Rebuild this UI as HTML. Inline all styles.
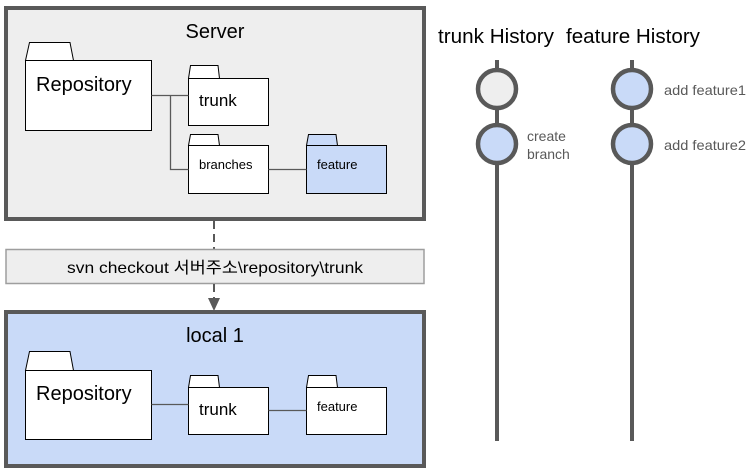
<!DOCTYPE html>
<html><head><meta charset="utf-8"><style>
html,body{margin:0;padding:0;background:#fff;}
svg{display:block;}
text{font-family:"Liberation Sans","Noto Sans CJK KR",sans-serif;}
</style></head><body>
<svg width="756" height="471" viewBox="0 0 756 471" xmlns="http://www.w3.org/2000/svg">
<!-- Server -->
<rect x="6" y="8" width="418" height="211" fill="#eeeeee" stroke="#595959" stroke-width="4"/>
<text x="215" y="38" font-size="20" text-anchor="middle" fill="#000">Server</text>
<g stroke="#000" stroke-width="1" fill="#fff">
<path d="M25.5 60.5 L29.5 42.5 L70 42.5 L73.5 60.5 Z"/>
<rect x="25.5" y="60.5" width="126" height="70"/>
<path d="M188.5 78.5 L190.5 65.5 L218 65.5 L219.5 78.5 Z"/>
<rect x="188.5" y="78.5" width="80" height="47"/>
<path d="M188.5 145.5 L190.5 134.5 L218 134.5 L219.5 145.5 Z"/>
<rect x="188.5" y="145.5" width="80" height="48"/>
<path d="M306.5 145.5 L308.5 134.5 L336 134.5 L337.5 145.5 Z" fill="#c9daf8"/>
<rect x="306.5" y="145.5" width="80" height="48" fill="#c9daf8"/>
</g>
<g stroke="#595959" stroke-width="1.3" fill="none">
<path d="M151.5 95.5 H188.5 M170.5 95.5 V169.5 H188.5 M268.5 169.5 H306.5"/>
</g>
<text x="36" y="91" font-size="20">Repository</text>
<text x="199" y="106" font-size="17">trunk</text>
<text x="199" y="169" font-size="13">branches</text>
<text x="317" y="169" font-size="13">feature</text>

<!-- checkout -->
<line x1="214" y1="221" x2="214" y2="249" stroke="#595959" stroke-width="2" stroke-dasharray="8,5"/>
<rect x="6" y="249.5" width="418" height="34" fill="#eeeeee" stroke="#9e9e9e" stroke-width="1.5"/>
<text x="67" y="273" font-size="16" textLength="296" lengthAdjust="spacingAndGlyphs">svn checkout 서버주소\repository\trunk</text>
<line x1="214" y1="284" x2="214" y2="300" stroke="#595959" stroke-width="2" stroke-dasharray="8,5"/>
<path d="M208 298 L220 298 L214 311 Z" fill="#595959"/>

<!-- local -->
<rect x="6" y="312" width="418" height="154" fill="#c9daf8" stroke="#595959" stroke-width="4"/>
<text x="215" y="342" font-size="20" text-anchor="middle">local 1</text>
<g stroke="#000" stroke-width="1" fill="#fff">
<path d="M25.5 370.5 L29.5 351.5 L70 351.5 L73.5 370.5 Z"/>
<rect x="25.5" y="370.5" width="126" height="69"/>
<path d="M188.5 387.5 L190.5 375.5 L218 375.5 L219.5 387.5 Z"/>
<rect x="188.5" y="387.5" width="80" height="47"/>
<path d="M306.5 387.5 L308.5 375.5 L336 375.5 L337.5 387.5 Z"/>
<rect x="306.5" y="387.5" width="80" height="47"/>
</g>
<g stroke="#595959" stroke-width="1.3" fill="none">
<path d="M151.5 404.5 H188.5 M268.5 410.5 H306.5"/>
</g>
<text x="36" y="400" font-size="20">Repository</text>
<text x="199" y="415" font-size="17">trunk</text>
<text x="317" y="411" font-size="13">feature</text>

<!-- histories -->
<text x="438" y="43" font-size="20" textLength="116" lengthAdjust="spacingAndGlyphs">trunk History</text>
<text x="566" y="43" font-size="20" textLength="134" lengthAdjust="spacingAndGlyphs">feature History</text>
<g stroke="#595959" stroke-width="4">
<line x1="497" y1="60" x2="497" y2="441"/>
<line x1="632" y1="60" x2="632" y2="441"/>
</g>
<g stroke="#595959" stroke-width="4.5">
<circle cx="497" cy="89" r="19" fill="#eeeeee"/>
<circle cx="497" cy="144" r="19" fill="#c9daf8"/>
<circle cx="632" cy="89" r="19" fill="#c9daf8"/>
<circle cx="632" cy="144" r="19" fill="#c9daf8"/>
</g>
<g font-size="14" fill="#595959">
<text x="527" y="141">create</text>
<text x="527" y="159">branch</text>
<text x="664" y="95" textLength="82" lengthAdjust="spacingAndGlyphs">add feature1</text>
<text x="664" y="150" textLength="82" lengthAdjust="spacingAndGlyphs">add feature2</text>
</g>
</svg>
</body></html>
